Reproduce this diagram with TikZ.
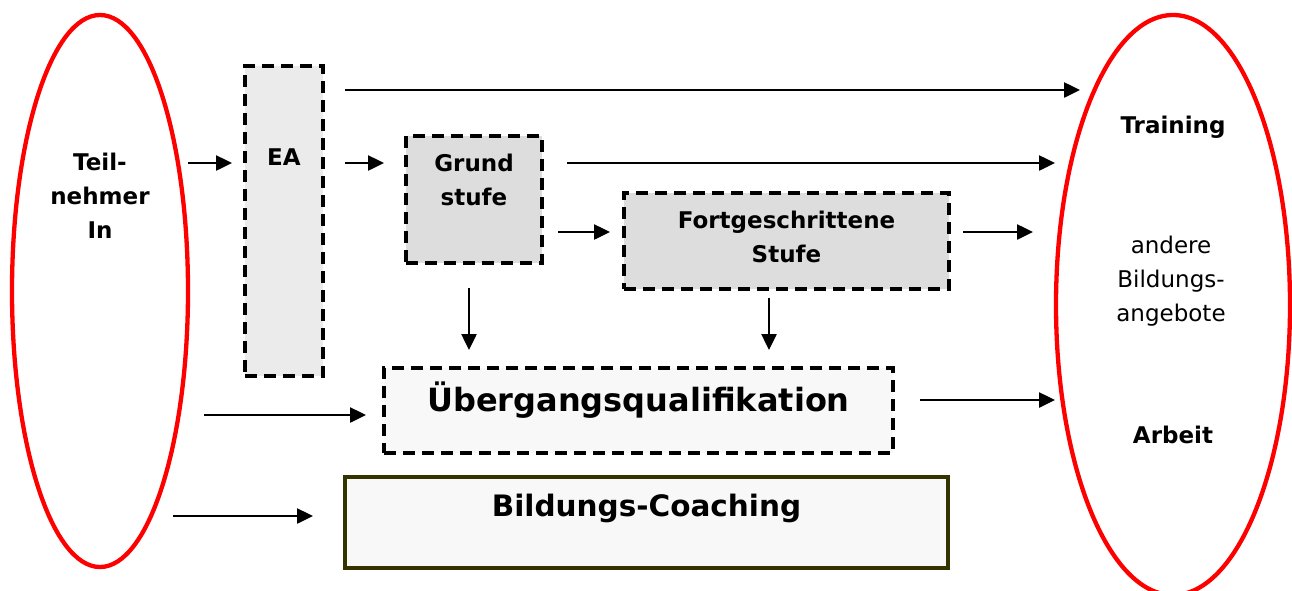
\documentclass[tikz,border=0pt]{standalone}
\usepackage{fontspec}
\setmainfont{DejaVu Sans}
\usetikzlibrary{shapes.geometric,arrows.meta,calc}
\definecolor{ellred}{HTML}{FF0000}
\definecolor{bcborder}{HTML}{333300}
\definecolor{eafill}{HTML}{EBEBEB}
\definecolor{stfill}{HTML}{DDDDDD}
\definecolor{lightfill}{HTML}{F8F8F8}
\begin{document}
\begin{tikzpicture}[x=1pt,y=-1pt,
  ell/.style={ellipse, draw=ellred, line width=4.3pt, inner sep=0pt, outer sep=0pt},
  dbox/.style={rectangle, draw=black, line width=3.5pt, dash pattern=on 12pt off 7pt, inner sep=0pt, outer sep=0pt},
  arr/.style={line width=2.5pt, -{Triangle[length=16pt,width=15pt]}},
  txt/.style={inner sep=0pt, align=center, font=\fontsize{23}{34}\selectfont},
  btxt/.style={inner sep=0pt, align=center, font=\fontsize{23}{34}\selectfont\bfseries},
]
\useasboundingbox (0,0) rectangle (1292,590);

% ellipses
\node[ell, minimum width=176, minimum height=552] (L) at (100,291) {};
\node[ell, minimum width=234, minimum height=580] (R) at (1173,305) {};

% boxes
\node[dbox, fill=eafill, minimum width=78, minimum height=310] (EA) at (284,221) {};
\node[dbox, fill=stfill, minimum width=136, minimum height=127] (GS) at (474,199.5) {};
\node[dbox, fill=stfill, minimum width=325, minimum height=96] (FS) at (786.5,241) {};
\node[dbox, fill=lightfill, minimum width=509, minimum height=85] (UQ) at (638.5,410.5) {};
\node[rectangle, draw=bcborder, line width=3.5pt, fill=lightfill, inner sep=0pt, outer sep=0pt,
      minimum width=603, minimum height=91] (BC) at (646.5,522.5) {};

% texts
\node[btxt] (Ltxt) at (100,196) {Teil-\\nehmer\\In};
\node[btxt] (EAtxt) at (284,157) {EA};
\node[btxt] (GStxt) at (474,180) {Grund\\stufe};
\node[btxt] (FStxt) at (786.5,236.5) {Fortgeschrittene\\Stufe};
\node[inner sep=0pt, font=\fontsize{32}{38}\selectfont\bfseries] (UQtxt) at (638.5,400) {Übergangsqualifikation};
\node[inner sep=0pt, font=\fontsize{29.5}{36}\selectfont\bfseries] (BCtxt) at (646.5,508) {Bildungs-Coaching};
\node[btxt] (Rtr) at (1173,127) {Training};
\node[txt] (Rand) at (1171,281) {andere\\Bildungs-\\angebote};
\node[btxt] (Rar) at (1173,435) {Arbeit};

% connectors
\draw[arr] ($(L.east)+(0,-128)$) -- ($(EA.west)+(-13,-58)$);
\draw[arr] ($(EA.east)+(22,-58)$) -- ($(GS.west)+(-22,-36.5)$);
\draw[arr] ($(EA.east)+(22,-131)$) -- ($(R.west)+(24,-215)$);
\draw[arr] ($(GS.east)+(25,-36.5)$) -- ($(R.west)+(-1,-142)$);
\draw[arr] ($(GS.east)+(16,32.5)$) -- ($(FS.west)+(-14,-9)$);
\draw[arr] ($(FS.east)+(14,-9)$) -- ($(R.west)+(-23,-73)$);
\draw[arr] ($(GS.south)+(-5,25)$) -- ($(UQ.north)+(-169.5,-18)$);
\draw[arr] ($(FS.south)+(-17.5,9)$) -- ($(UQ.north)+(130.5,-18)$);
\draw[arr] ($(L.east)+(16,124)$) -- ($(UQ.west)+(-18,4.5)$);
\draw[arr] ($(UQ.east)+(27,-10.5)$) -- ($(R.west)+(-1,95)$);
\draw[arr] ($(L.east)+(-15,225)$) -- ($(BC.west)+(-32,-6.5)$);
\end{tikzpicture}
\end{document}
